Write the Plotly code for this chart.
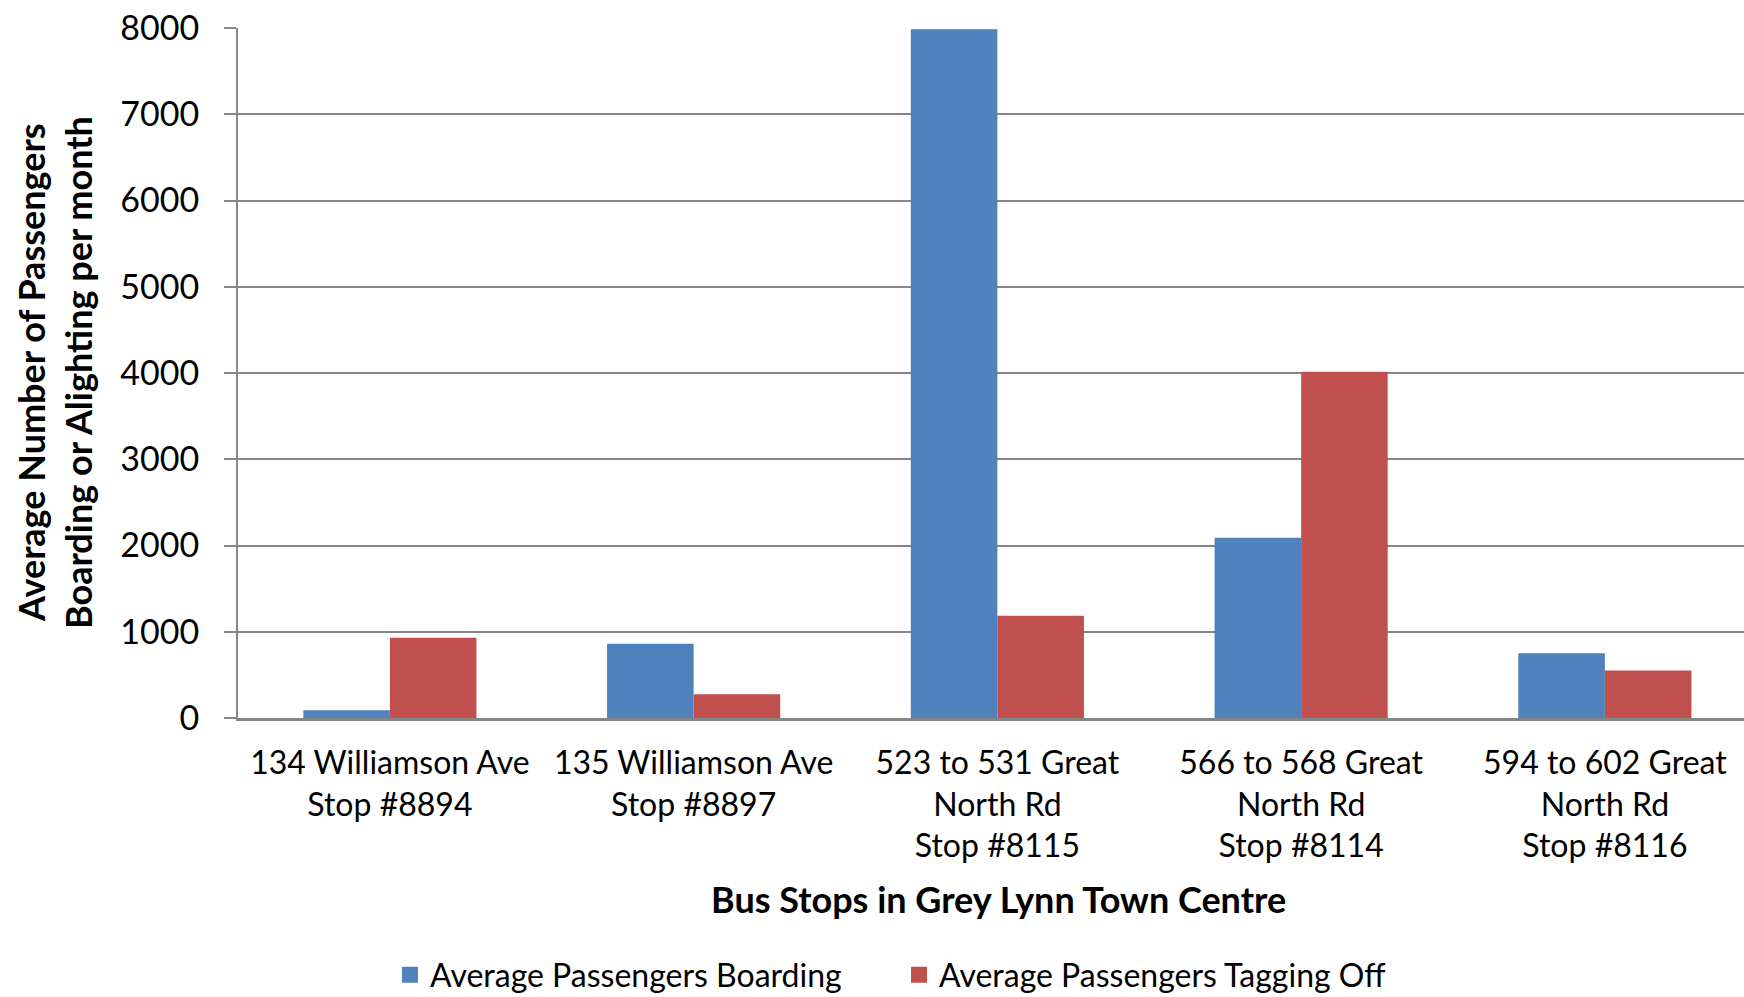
import plotly.graph_objects as go

categories = [
    "134 Williamson Ave<br>Stop #8894",
    "135 Williamson Ave<br>Stop #8897",
    "523 to 531 Great<br>North Rd<br>Stop #8115",
    "566 to 568 Great<br>North Rd<br>Stop #8114",
    "594 to 602 Great<br>North Rd<br>Stop #8116",
]
series_names = ["Average Passengers Boarding", "Average Passengers Tagging Off"]
boarding = [90, 860, 7985, 2090, 750]
tagging_off = [930, 275, 1185, 4015, 550]
y_ticks = [0, 1000, 2000, 3000, 4000, 5000, 6000, 7000, 8000]
colors = ["#4F81BD", "#C0504D"]

W, H = 1744, 997
L, R, T = 238, 0, 28
B = H - 718
FONT = "Lato"
GRID = "#868686"

def px_x(px):
    return (px - L) / (W - L - R)

def px_y(py):
    return (H - B - py) / (H - T - B)

xs = list(range(len(categories)))

fig = go.Figure()
for name, vals, col in zip(series_names, [boarding, tagging_off], colors):
    fig.add_trace(go.Bar(x=xs, y=vals, name=name, showlegend=False,
                         marker=dict(color=col, line=dict(width=0))))
# legend entries with larger square swatches
for name, col in zip(series_names, colors):
    fig.add_trace(go.Scatter(x=[None], y=[None], mode="markers", name=name,
                             marker=dict(symbol="square", size=19, color=col)))

fig.update_layout(
    width=W, height=H,
    margin=dict(l=L, r=R, t=T, b=B, autoexpand=False),
    paper_bgcolor="white", plot_bgcolor="white",
    barmode="group", bargap=0.43, bargroupgap=0,
    font=dict(family=FONT, size=33, color="black"),
    showlegend=True,
    legend=dict(orientation="h", x=px_x(390), xanchor="left",
                y=px_y(975), yanchor="middle",
                font=dict(family=FONT, size=32, color="black"),
                entrywidth=464, entrywidthmode="pixels",
                bgcolor="rgba(0,0,0,0)"),
    xaxis=dict(range=[-0.5, 4.458], tickmode="array", tickvals=xs, ticktext=categories,
               showgrid=False, showline=True, linecolor=GRID, linewidth=2.5,
               ticks="", tickfont=dict(family=FONT, size=32, color="black"),
               ticklabelstandoff=15, zeroline=False),
    yaxis=dict(range=[0, 8000], tickmode="array", tickvals=y_ticks,
               ticktext=[str(v) for v in y_ticks],
               showgrid=True, gridcolor=GRID, gridwidth=2,
               showline=True, linecolor=GRID, linewidth=2,
               ticks="outside", ticklen=12, tickcolor=GRID, tickwidth=2,
               tickfont=dict(family=FONT, size=34, color="black"),
               ticklabelstandoff=18, ticklabeloverflow="allow", zeroline=False),
    annotations=[
        dict(text="<b>Average Number of Passengers</b>", textangle=-90,
             xref="paper", yref="paper", x=px_x(31), y=0.5,
             xanchor="center", yanchor="middle", showarrow=False,
             font=dict(family=FONT, size=36, color="black")),
        dict(text="<b>Boarding or Alighting per month</b>", textangle=-90,
             xref="paper", yref="paper", x=px_x(78), y=0.5,
             xanchor="center", yanchor="middle", showarrow=False,
             font=dict(family=FONT, size=36, color="black")),
        dict(text="<b>Bus Stops in Grey Lynn Town Centre</b>",
             xref="paper", yref="paper", x=px_x(998), y=px_y(899),
             xanchor="center", yanchor="middle", showarrow=False,
             font=dict(family=FONT, size=36, color="black")),
    ],
)

fig.write_html("out.html",
               config={"displayModeBar": False},
               post_script="document.body.style.margin='0';document.body.style.overflow='hidden';")
